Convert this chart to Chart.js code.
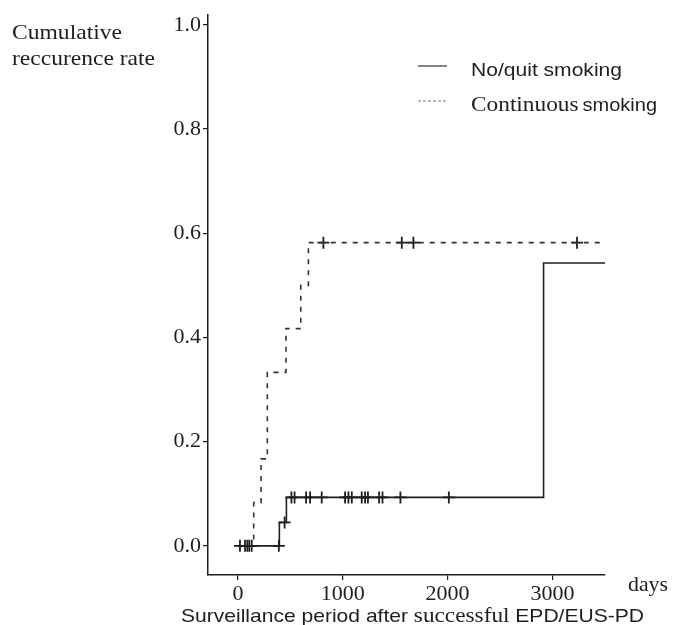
<!DOCTYPE html>
<html>
<head>
<meta charset="utf-8">
<script src="https://cdn.jsdelivr.net/npm/chart.js@4.4.1/dist/chart.umd.min.js"></script>
<style>
  html, body { margin: 0; padding: 0; background: #fff; }
  #wrap { width: 673px; height: 625px; }
</style>
</head>
<body>
<div id="wrap"><canvas id="c" width="673" height="625"></canvas></div>
<script>
const xTicks = [0, 1000, 2000, 3000];
const yTicks = [0, 0.2, 0.4, 0.6, 0.8, 1.0];

// step curves: days / cumulative recurrence rate
const quitDays = [0, 395, 462, 2916, 3502];
const quitRate = [0, 0.045, 0.093, 0.543, 0.543];
const contDays = [0, 150, 220, 280, 458, 599, 672, 3502];
const contRate = [0, 0.083, 0.167, 0.333, 0.417, 0.5, 0.582, 0.582];

// censored observations (+ marks)
const quitCensDays = [19, 67, 89, 108, 131, 390, 445, 510, 540, 650, 688, 799, 1022, 1054, 1086, 1181, 1213, 1240, 1347, 1379, 1550, 2012];
const quitCensRate = [0, 0, 0, 0, 0, 0, 0.045, 0.093, 0.093, 0.093, 0.093, 0.093, 0.093, 0.093, 0.093, 0.093, 0.093, 0.093, 0.093, 0.093, 0.093, 0.093];
const contCensDays = [815, 1563, 1674, 3235];
const contCensRate = [0.582, 0.582, 0.582, 0.582];

const INK = "#1e1e1e";
const SERIF = '"Liberation Serif", "Times New Roman", serif';
const SANS = '"Liberation Sans", Arial, sans-serif';

const pts = (xs, ys) => xs.map((x, i) => ({ x, y: ys[i] }));

// draw a run of differently-fonted pieces squeezed/stretched to a given width
function fitText(ctx, parts, x, base, width) {
  let total = 0;
  for (const [t, f] of parts) { ctx.font = f; total += ctx.measureText(t).width; }
  ctx.save();
  ctx.translate(x, base);
  ctx.scale(width / total, 1);
  let cx = 0;
  for (const [t, f] of parts) {
    ctx.font = f;
    ctx.fillText(t, cx, 0);
    cx += ctx.measureText(t).width;
  }
  ctx.restore();
}

const annotations = {
  id: "annotations",
  afterDraw(chart) {
    const ctx = chart.ctx;
    ctx.save();
    ctx.fillStyle = INK;
    ctx.textBaseline = "alphabetic";
    ctx.textAlign = "left";
    fitText(ctx, [["Cumulative", "21px " + SERIF]], 12, 39, 110);
    fitText(ctx, [["reccurence rate", "21px " + SERIF]], 12, 65, 143);

    // legend
    ctx.strokeStyle = "#333";
    ctx.lineWidth = 1.2;
    ctx.beginPath(); ctx.moveTo(418, 66); ctx.lineTo(447, 66); ctx.stroke();
    ctx.strokeStyle = "#777";
    ctx.lineWidth = 1;
    ctx.setLineDash([3, 2]);
    ctx.beginPath(); ctx.moveTo(418, 101); ctx.lineTo(447, 101); ctx.stroke();
    ctx.setLineDash([]);
    fitText(ctx, [["No/quit smoking", "18px " + SANS]], 471, 76, 151);
    fitText(ctx, [["Continuous", "21px " + SERIF], ["\u2009smoking", "18px " + SANS]], 471, 111, 186);

    fitText(ctx, [["days", "22px " + SERIF]], 628, 591, 40);
    fitText(ctx, [
      ["Surveillance period after ", "19px " + SANS],
      ["successful", "21px " + SERIF],
      [" EPD/EUS-PD", "19px " + SANS],
    ], 181, 622, 463);
    ctx.restore();
  },
};

new Chart(document.getElementById("c"), {
  type: "line",
  data: {
    datasets: [
      {
        label: "No/quit smoking",
        data: pts(quitDays, quitRate),
        stepped: true,
        borderColor: INK,
        borderWidth: 1.6,
        pointRadius: 0,
        fill: false,
      },
      {
        label: "Continuous smoking",
        data: pts(contDays, contRate),
        stepped: true,
        borderColor: "#333",
        borderWidth: 1.6,
        borderDash: [5, 6],
        pointRadius: 0,
        fill: false,
      },
      {
        label: "censored (no/quit)",
        data: pts(quitCensDays, quitCensRate),
        showLine: false,
        pointStyle: "cross",
        pointRadius: 6,
        borderColor: INK,
        borderWidth: 1.8,
      },
      {
        label: "censored (continuous)",
        data: pts(contCensDays, contCensRate),
        showLine: false,
        pointStyle: "cross",
        pointRadius: 6,
        borderColor: INK,
        borderWidth: 1.8,
      },
    ],
  },
  options: {
    responsive: false,
    animation: false,
    layout: { padding: { top: 12, right: 68, left: 0, bottom: 0 } },
    plugins: { legend: { display: false }, tooltip: { enabled: false } },
    scales: {
      x: {
        type: "linear",
        min: -286,
        max: 3502,
        afterBuildTicks: (s) => { s.ticks = xTicks.map((v) => ({ value: v })); },
        afterFit: (s) => { s.height = 50; },
        grid: { drawOnChartArea: false, drawTicks: true, tickLength: 5, color: INK, lineWidth: 1.2 },
        border: { color: INK, width: 1.5 },
        ticks: { color: INK, font: { family: SERIF, size: 22 }, padding: 1, maxRotation: 0, callback: (v) => String(v) },
      },
      y: {
        type: "linear",
        min: -0.0559,
        max: 1.0185,
        afterBuildTicks: (s) => { s.ticks = yTicks.map((v) => ({ value: v })); },
        afterFit: (s) => { s.width = 208; },
        grid: { drawOnChartArea: false, drawTicks: true, tickLength: 5, color: INK, lineWidth: 1.2 },
        border: { color: INK, width: 1.5 },
        ticks: { color: INK, font: { family: SERIF, size: 22 }, padding: 2, callback: (v) => Number(v).toFixed(1) },
      },
    },
  },
  plugins: [annotations],
});
</script>
</body>
</html>
